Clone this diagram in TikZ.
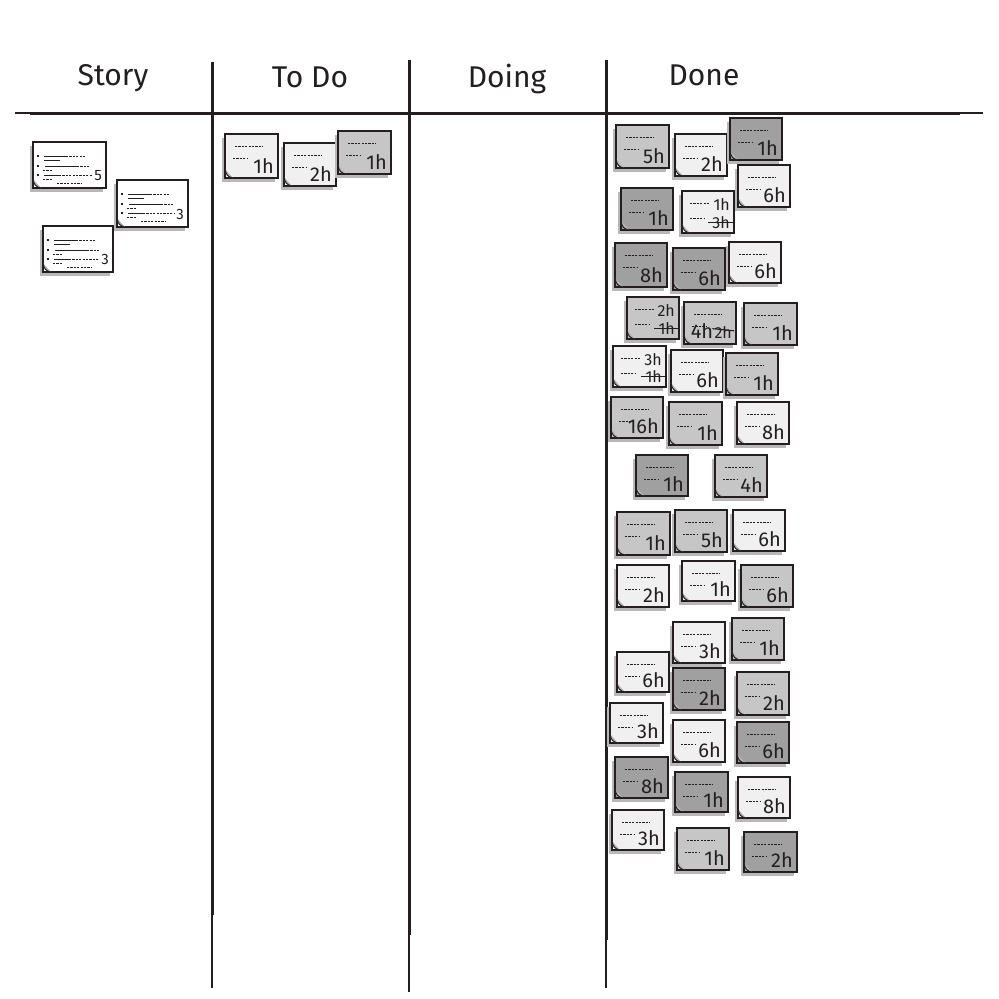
\documentclass[tikz,border=0pt]{standalone}
\usepackage{fontspec}
\setmainfont{Fira Sans}
\definecolor{nlight}{HTML}{F0F0F0}
\definecolor{nmid}{HTML}{C6C6C6}
\definecolor{ndark}{HTML}{A0A0A0}
\definecolor{nshadow}{HTML}{B8B8B8}
\definecolor{ink}{HTML}{231F20}
\tikzset{
  notebox/.style={draw=ink, line width=1.4pt, rectangle, inner sep=0pt},
  noteshadow/.style={fill=nshadow},
  txtline/.style={draw=ink, line width=1pt, dash pattern=on 2.2pt off 1.2pt},
  solidline/.style={draw=ink, line width=0.9pt},
  notenum/.style={font=\fontsize{20}{20}\selectfont, text=ink, inner sep=0pt},
  smallnum/.style={font=\fontsize{16}{16}\selectfont, text=ink, inner sep=0pt},
  storynum/.style={font=\fontsize{15}{15}\selectfont, text=ink, inner sep=0pt},
  header/.style={font=\fontsize{30}{30}\selectfont, text=ink, inner sep=0pt},
  board/.style={draw=ink, line cap=butt},
  strike/.style={draw=ink, line width=1.1pt},
  curl/.style={draw=ink, line width=1pt, fill=nshadow},
}
% name, x0, y0, w, h, fill, label
\newcommand\snote[7]{%
  \fill[noteshadow] (#2-3,#3+4) rectangle (#2+#4-3,#3+#5+4);
  \node[notebox, fill=#6, minimum width=#4pt, minimum height=#5pt] (#1) at (#2+#4/2,#3+#5/2) {};
  \draw[txtline] (#2+10,#3+12) -- (#2+38,#3+12);
  \draw[txtline] (#2+8,#3+24) -- (#2+22,#3+24);
  \node[notenum, anchor=south east] (#1-n) at (#2+#4-4,#3+#5-4) {#7};
  \draw[curl] (#2,#3+#5-9) .. controls (#2+1,#3+#5-3) and (#2+3,#3+#5-1) .. (#2+8,#3+#5);
}
% note with two stacked labels: name, x0, y0, w, h, fill, upper, lower (struck)
\newcommand\snotetwo[8]{%
  \fill[noteshadow] (#2-3,#3+4) rectangle (#2+#4-3,#3+#5+4);
  \node[notebox, fill=#6, minimum width=#4pt, minimum height=#5pt] (#1) at (#2+#4/2,#3+#5/2) {};
  \draw[txtline] (#2+8,#3+12) -- (#2+28,#3+12);
  \draw[txtline] (#2+8,#3+27) -- (#2+22,#3+27);
  \node[smallnum, anchor=south east] (#1-u) at (#2+#4-4,#3+20) {#7};
  \node[smallnum, anchor=south east] (#1-n) at (#2+#4-4,#3+#5-4) {#8};
  \draw[strike] ([xshift=-4pt]#1-n.west) -- ([xshift=3pt]#1-n.east);
  \draw[curl] (#2,#3+#5-9) .. controls (#2+1,#3+#5-3) and (#2+3,#3+#5-1) .. (#2+8,#3+#5);
}
% name, x0, y0, w, h, number
\newcommand\storynote[6]{%
  \fill[noteshadow] (#2-3,#3+4) rectangle (#2+#4-3,#3+#5+4);
  \node[notebox, fill=white, minimum width=#4pt, minimum height=#5pt] (#1) at (#2+#4/2,#3+#5/2) {};
  \fill[ink] (#2+4,#3+13) rectangle (#2+6,#3+15);
  \draw[solidline] (#2+11,#3+14) -- (#2+33,#3+14);
  \draw[txtline] (#2+33,#3+14) -- (#2+53,#3+14);
  \draw[solidline] (#2+11,#3+18) -- (#2+27,#3+18);
  \fill[ink] (#2+4,#3+23) rectangle (#2+6,#3+25);
  \draw[solidline] (#2+12,#3+24) -- (#2+44,#3+24);
  \draw[txtline] (#2+44,#3+24) -- (#2+56,#3+24);
  \draw[txtline] (#2+10,#3+28) -- (#2+20,#3+28);
  \fill[ink] (#2+4,#3+32) rectangle (#2+6,#3+34);
  \draw[solidline] (#2+11,#3+33) -- (#2+26,#3+33);
  \draw[txtline] (#2+26,#3+33) -- (#2+#4-14,#3+33);
  \draw[txtline] (#2+10,#3+37) -- (#2+20,#3+37);
  \draw[txtline] (#2+24,#3+41) -- (#2+48,#3+41);
  \node[storynum, anchor=south east] (#1-n) at (#2+#4-4,#3+#5-7) {#6};
  \draw[curl] (#2,#3+#5-9) .. controls (#2+1,#3+#5-3) and (#2+3,#3+#5-1) .. (#2+8,#3+#5);
}
\begin{document}
\begin{tikzpicture}[x=1pt,y=-1pt]
\useasboundingbox[fill=white] (0,0) rectangle (999,999);
% board lines
\draw[board, line width=1.5pt] (15,113) -- (983,113);
\draw[board, line width=3pt] (30,113) -- (960,113);
\draw[board, line width=3pt] (212,62) -- (212,915);
\draw[board, line width=1.8pt] (212,915) -- (212,988);
\draw[board, line width=3pt] (409,60) -- (409,935);
\draw[board, line width=1.8pt] (409,935) -- (409,992);
\draw[board, line width=3pt] (606,60) -- (606,940);
\draw[board, line width=1.8pt] (606,940) -- (606,988);
% headers
\node[header] (hStory) at (113,78) {Story};
\node[header] (hTodo) at (310,77) {To Do};
\node[header] (hDoing) at (507,79) {Doing};
\node[header] (hDone) at (704,75) {Done};
% story
\storynote{S1}{33}{142}{73}{46}{5}
\storynote{S2}{117}{180}{71}{47}{3}
\storynote{S3}{43}{226}{70}{46}{3}
% to do
\snote{T1}{225}{134}{53}{44}{nlight}{1h}
\snote{T2}{284}{143}{52}{43}{nlight}{2h}
\snote{T3}{338}{131}{53}{43}{nmid}{1h}
% done
\snote{D1}{616}{125}{53}{43}{nmid}{5h}
\snote{D2}{675}{134}{52}{42}{nlight}{2h}
\snote{D3}{730}{118}{52}{42}{ndark}{1h}
\snote{D4}{738}{165}{52}{42}{nlight}{6h}
\snote{D5}{621}{188}{52}{42}{ndark}{1h}
\snotetwo{D6}{682}{191}{52}{42}{nlight}{1h}{3h}
\snote{D7}{615}{243}{52}{44}{ndark}{8h}
\snote{D8}{673}{248}{52}{42}{ndark}{6h}
\snote{D9}{729}{242}{52}{41}{nlight}{6h}
\snotetwo{D10}{627}{297}{52}{42}{nmid}{2h}{1h}
\snote{D11}{684}{302}{52}{42}{nmid}{}
\node[smallnum, anchor=south east] (D11-s) at (732,339) {2h};
\node[notenum, anchor=south east] (D11-u) at ([xshift=-1pt]D11-s.south west) {4h};
\draw[strike] ([xshift=-2pt,yshift=-2pt]D11-s.north west) -- ([xshift=2pt,yshift=2pt]D11-s.east);
\snote{D12}{744}{303}{53}{42}{nmid}{1h}
\snotetwo{D13}{613}{346}{53}{41}{nlight}{3h}{1h}
\snote{D14}{671}{350}{52}{42}{nlight}{6h}
\snote{D15}{726}{353}{52}{42}{nmid}{1h}
\snote{D16}{611}{397}{52}{41}{nmid}{16h}
\snote{D17}{669}{402}{53}{43}{nmid}{1h}
\snote{D18}{737}{402}{52}{42}{nlight}{8h}
\snote{D19}{636}{455}{52}{41}{ndark}{1h}
\snote{D20}{715}{455}{52}{42}{nmid}{4h}
\snote{D21}{617}{512}{53}{43}{nmid}{1h}
\snote{D22}{675}{510}{52}{42}{nmid}{5h}
\snote{D23}{733}{510}{52}{41}{nlight}{6h}
\snote{D24}{617}{565}{52}{42}{nlight}{2h}
\snote{D25}{682}{561}{53}{40}{nlight}{1h}
\snote{D26}{741}{565}{52}{42}{nmid}{6h}
\snote{D27}{673}{622}{52}{41}{nlight}{3h}
\snote{D28}{732}{618}{52}{42}{nmid}{1h}
\snote{D29}{617}{652}{52}{40}{nlight}{6h}
\snote{D30}{673}{668}{52}{42}{ndark}{2h}
\snote{D31}{737}{672}{52}{43}{nmid}{2h}
\snote{D32}{610}{703}{53}{40}{nlight}{3h}
\snote{D33}{673}{720}{52}{42}{nlight}{6h}
\snote{D34}{737}{722}{52}{41}{ndark}{6h}
\snote{D35}{615}{757}{53}{41}{ndark}{8h}
\snote{D36}{675}{772}{53}{40}{ndark}{1h}
\snote{D37}{738}{777}{52}{41}{nlight}{8h}
\snote{D38}{612}{810}{52}{40}{nlight}{3h}
\snote{D39}{677}{828}{52}{42}{nmid}{1h}
\snote{D40}{744}{832}{53}{40}{ndark}{2h}
\end{tikzpicture}
\end{document}
